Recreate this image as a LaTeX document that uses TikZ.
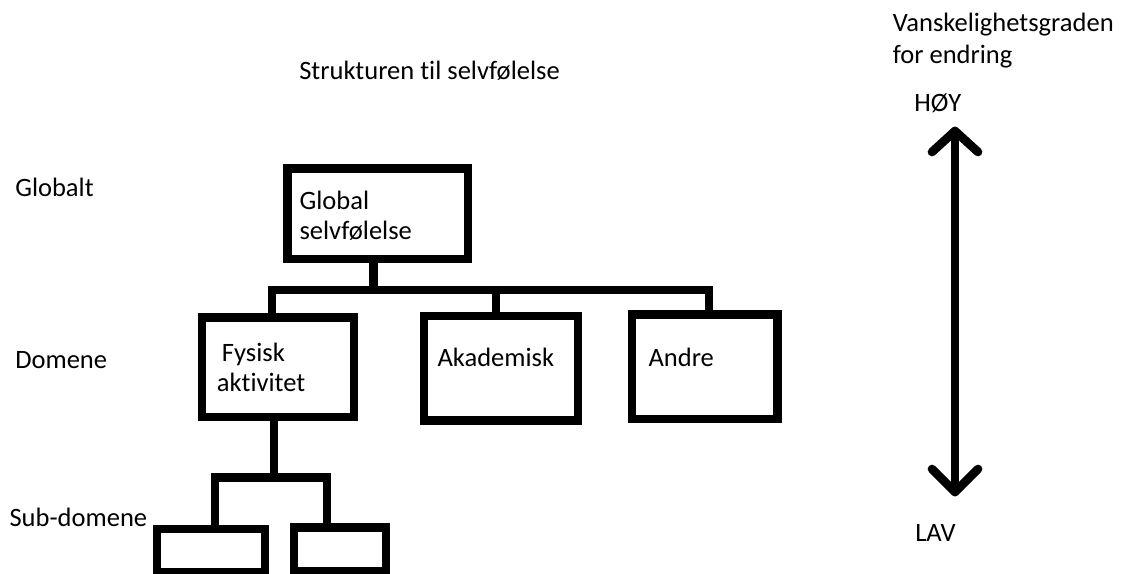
\documentclass[tikz,border=0pt]{standalone}
\usepackage{fontspec}
\setmainfont[Ligatures={NoCommon}]{Carlito}
\begin{document}
\begin{tikzpicture}[x=0.75pt,y=-0.75pt,
  box/.style={draw, line width=6.3pt, line join=miter, inner sep=0pt, rectangle},
  conn/.style={draw, line width=6.3pt, line join=miter},
  arr/.style={draw, line width=6.5pt, line cap=round, line join=round},
  lab/.style={anchor=base west, inner sep=0pt, font=\fontsize{19.9}{23}\selectfont}]
\useasboundingbox (0,0) rectangle (1121,574);

% titles
\node[lab] (title) at (299,80) {Strukturen til selvfølelse};
\node[lab] (diff1) at (892.5,31.7) {Vanskelighetsgraden};
\node[lab] (diff2) at (892.5,63.3) {for endring};
\node[lab] (hoy) at (914,111.7) {HØY};
\node[lab] (lav) at (915,541.7) {LAV};

% level labels
\node[lab] (lglob) at (15,196) {Globalt};
\node[lab] (ldom) at (15,368.3) {Domene};
\node[lab] (lsub) at (9.3,526) {Sub-domene};

% boxes
\node[box, minimum width=135.4pt, minimum height=67.9pt] (glob) at (377.75,213.75) {};
\node[box, minimum width=114.2pt, minimum height=74.6pt] (fys) at (277.85,367.25) {};
\node[box, minimum width=115.5pt, minimum height=78.4pt] (aka) at (501,368.25) {};
\node[box, minimum width=109.1pt, minimum height=78.4pt] (andre) at (704.75,366.75) {};
\node[box, minimum width=81pt, minimum height=32.25pt] (sub1) at (211,550.5) {};
\node[box, minimum width=69pt, minimum height=32.6pt] (sub2) at (340,549.25) {};

% box texts
\node[lab] (tglob1) at (299.3,209.3) {Global};
\node[lab] (tglob2) at (299.3,239.3) {selvfølelse};
\node[lab] (tfys1) at (221.7,361.7) {Fysisk};
\node[lab] (tfys2) at (216.7,391.7) {aktivitet};
\node[lab] (taka) at (437.3,366) {Akademisk};
\node[lab] (tandre) at (648.3,366) {Andre};

% upper tree
\coordinate (barL) at (272,290);
\coordinate (barR) at (709,290);
\coordinate (globS) at (373.5,290);
\coordinate (akaT) at (496,290);
\draw[conn] (globS |- glob.south) -- (globS);
\draw[conn] (barL |- fys.north) -- (barL) -- (barR) -- (barR |- andre.north);
\draw[conn] (akaT) -- (akaT |- aka.north);

% lower tree
\coordinate (sbarL) at (215,477.5);
\coordinate (sbarR) at (327,477.5);
\coordinate (sstem) at (274,477.5);
\draw[conn] (sstem |- fys.south) -- (sstem);
\draw[conn] (sbarL |- sub1.north) -- (sbarL) -- (sbarR) -- (sbarR |- sub2.north);

% difficulty arrow
\coordinate (atop) at (955,131);
\coordinate (abot) at (955,492);
\draw[arr] (atop) -- (abot);
\draw[arr] ([shift={(-23,21)}]atop) -- (atop) -- ([shift={(23,21)}]atop);
\draw[arr] ([shift={(-23,-23)}]abot) -- (abot) -- ([shift={(23,-23)}]abot);
\end{tikzpicture}
\end{document}
